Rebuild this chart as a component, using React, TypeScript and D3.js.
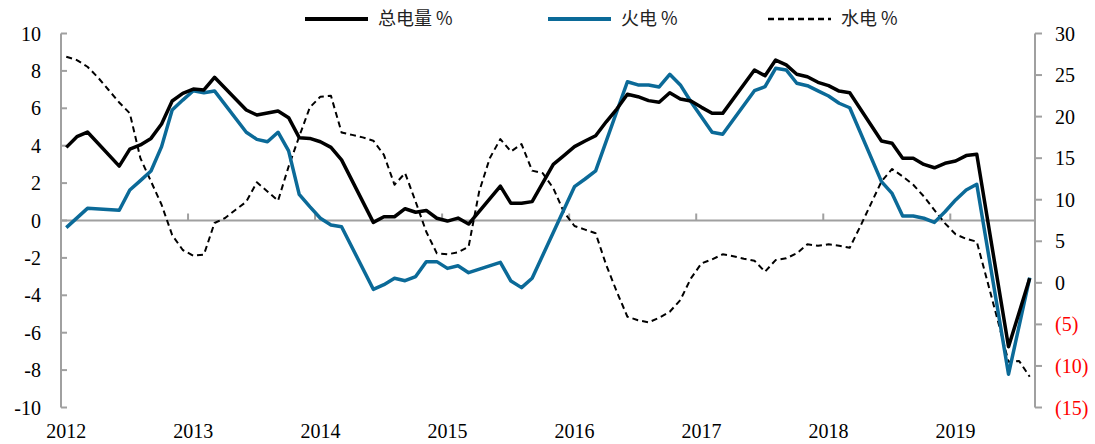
import React, { useRef, useEffect } from "react";
import * as d3 from "d3";

// monthly, Jan 2012 .. Aug 2019 (92 months); null = no point, line connects over it
const years = ["2012", "2013", "2014", "2015", "2016", "2017", "2018", "2019"];
const leftTicks = [10, 8, 6, 4, 2, 0, -2, -4, -6, -8, -10];
const rightTicks = [30, 25, 20, 15, 10, 5, 0, -5, -10, -15];

const total = [
  3.91, 4.48, 4.73, null, null, 2.91, 3.82, 4.04, 4.39, 5.16, 6.39, 6.8,
  7.03, 6.98, 7.66, null, null, 5.91, 5.64, null, 5.86, 5.5, 4.43, 4.39,
  4.21, 3.91, 3.24, null, null, -0.1, 0.2, 0.2, 0.63, 0.44, 0.54, 0.12,
  -0.03, 0.13, -0.19, null, null, 1.84, 0.92, 0.92, 1.01, null, 3.0, 3.47,
  3.95, 4.25, 4.53, 5.28, 5.96, 6.75, 6.62, 6.41, 6.32, 6.83, 6.5, 6.39,
  6.05, 5.73, 5.73, null, null, 8.05, 7.74, 8.58, 8.32, 7.82, 7.69, 7.39,
  7.21, 6.92, 6.83, null, null, 4.25, 4.13, 3.33, 3.33, 3.0, 2.82, 3.06,
  3.18, 3.47, 3.54, null, null, -6.75, null, -3.09,
];

const thermal = [
  -0.38, null, 0.65, null, null, 0.55, 1.63, 2.13, 2.65, 3.95, 5.91, 6.44,
  6.94, 6.83, 6.93, null, null, 4.72, 4.34, 4.21, 4.72, 3.72, 1.4, 0.74,
  0.12, -0.24, -0.33, null, null, -3.68, -3.43, -3.09, -3.22, -3.0, -2.2, -2.2,
  -2.56, -2.42, -2.79, null, null, -2.24, -3.24, -3.59, -3.09, null, null, null,
  1.81, 2.22, 2.65, null, null, 7.42, 7.25, 7.25, 7.14, 7.82, 7.25, 6.35,
  null, 4.72, 4.61, null, null, 6.94, 7.16, 8.14, 8.05, 7.34, 7.21, 6.93,
  6.66, 6.27, 6.03, null, null, 2.08, 1.45, 0.24, 0.24, 0.12, -0.1, 0.47,
  1.1, 1.63, 1.94, null, null, -8.22, null, -3.06,
];

const hydro = [
  27.2, 26.8, 26.0, 24.7, 23.2, 21.7, 20.4, 15.0, 12.2, 9.4, 5.75, 3.95,
  3.26, 3.4, 7.2, 7.8, 8.8, 9.76, 12.1, 11.0, 9.88, 14.0, 17.6, 21.1,
  22.4, 22.5, 18.1, 17.8, 17.5, 17.1, 15.4, 11.8, 13.2, 9.76, 6.15, 3.55,
  3.43, 3.67, 4.34, 11.0, 15.0, 17.3, 15.8, 16.7, 13.5, 13.2, 11.4, 8.5,
  6.84, 6.4, 5.96, 2.14, -1.07, -4.08, -4.5, -4.75, -4.2, -3.48, -2.07, 0.54,
  2.35, 2.83, 3.43, 3.2, 2.9, 2.66, 1.34, 2.74, 2.95, 3.55, 4.63, 4.46,
  4.63, 4.46, 4.22, 6.8, 9.5, 12.2, 13.7, 12.8, 11.8, 10.4, 8.76, 7.16,
  5.84, 5.3, 4.95, 0.2, -4.6, -9.5, -9.4, -11.3,
];

const legendItems = [
  { name: "总电量 %", color: "#000", width: 3.5, dash: null, x: 305 },
  { name: "火电 %", color: "#0b6a98", width: 3.5, dash: null, x: 548 },
  { name: "水电 %", color: "#000", width: 2, dash: "6,4", x: 768 },
];

function Chart() {
  const ref = useRef<SVGSVGElement>(null);

  useEffect(() => {
    const svg = d3.select(ref.current);
    svg.selectAll("*").remove();

    const left = 61, right = 1035, top = 33.5, bottom = 407.5;
    const n = total.length;
    const axisColor = "#a0a0a0";
    const font = "'Liberation Serif', 'Times New Roman', serif";

    const x = d3.scaleBand<number>().domain(d3.range(n)).range([left, right]);
    const cx = (i: number) => (x(i) as number) + x.bandwidth() / 2;
    const yL = d3.scaleLinear().domain([-10, 10]).range([bottom, top]);
    const yR = d3.scaleLinear().domain([-15, 30]).range([bottom, top]);

    // left axis
    const gl = svg.append("g");
    gl.append("line")
      .attr("x1", left).attr("x2", left).attr("y1", top).attr("y2", bottom)
      .attr("stroke", axisColor).attr("stroke-width", 2);
    leftTicks.forEach((t) => {
      gl.append("line")
        .attr("x1", left).attr("x2", left + 6).attr("y1", yL(t)).attr("y2", yL(t))
        .attr("stroke", axisColor).attr("stroke-width", 2);
      gl.append("text")
        .attr("x", 41).attr("y", yL(t)).attr("dy", "0.35em")
        .attr("text-anchor", "end").attr("font-family", font).attr("font-size", 20)
        .attr("fill", "#000").text(t);
    });

    // right axis
    const gr = svg.append("g");
    gr.append("line")
      .attr("x1", right).attr("x2", right).attr("y1", top).attr("y2", bottom)
      .attr("stroke", axisColor).attr("stroke-width", 2);
    rightTicks.forEach((t) => {
      gr.append("line")
        .attr("x1", right).attr("x2", right + 7).attr("y1", yR(t)).attr("y2", yR(t))
        .attr("stroke", axisColor).attr("stroke-width", 2);
      gr.append("text")
        .attr("x", 1055).attr("y", yR(t)).attr("dy", "0.35em")
        .attr("text-anchor", "start").attr("font-family", font).attr("font-size", 20)
        .attr("fill", t < 0 ? "#ff0000" : "#000")
        .text(t < 0 ? "(" + -t + ")" : t);
    });

    // x axis at left zero
    const gx = svg.append("g");
    gx.append("line")
      .attr("x1", left).attr("x2", right).attr("y1", yL(0)).attr("y2", yL(0))
      .attr("stroke", axisColor).attr("stroke-width", 2);
    years.forEach((yr, k) => {
      const xt = x(k * 12) as number;
      if (k > 0) {
        gx.append("line")
          .attr("x1", xt).attr("x2", xt).attr("y1", yL(0) - 7).attr("y2", yL(0))
          .attr("stroke", axisColor).attr("stroke-width", 2);
      }
      gx.append("text")
        .attr("x", cx(k * 12)).attr("y", 438)
        .attr("text-anchor", "middle").attr("font-family", font).attr("font-size", 20)
        .attr("fill", "#000").text(yr);
    });

    const draw = (vals: (number | null)[], y: d3.ScaleLinear<number, number>, color: string, w: number, dash: string | null) => {
      const pts = vals.map((v, i) => [i, v] as [number, number | null]).filter((d) => d[1] !== null) as [number, number][];
      const line = d3.line<[number, number]>().x((d) => cx(d[0])).y((d) => y(d[1]));
      svg.append("path")
        .attr("d", line(pts))
        .attr("fill", "none").attr("stroke", color).attr("stroke-width", w)
        .attr("stroke-linejoin", "round")
        .attr("stroke-dasharray", dash);
    };

    draw(hydro, yR, "#000", 2, "6,4");
    draw(thermal, yL, "#0b6a98", 3.5, null);
    draw(total, yL, "#000", 3.5, null);

    // legend
    const lg = svg.append("g");
    legendItems.forEach((it) => {
      lg.append("line")
        .attr("x1", it.x).attr("x2", it.x + 63).attr("y1", 19).attr("y2", 19)
        .attr("stroke", it.color).attr("stroke-width", it.width + 0.5)
        .attr("stroke-dasharray", it.dash);
      lg.append("text")
        .attr("x", it.x + 73).attr("y", 19).attr("dy", "0.35em")
        .attr("font-family", "'Noto Sans CJK SC', sans-serif").attr("font-size", 18)
        .attr("fill", "#222").text(it.name);
    });
  }, []);

  return <svg ref={ref} width={1095} height={444} style={{ position: "absolute", left: 0, top: 0, background: "#fff" }} />;
}

export default function App() {
  return <Chart />;
}
